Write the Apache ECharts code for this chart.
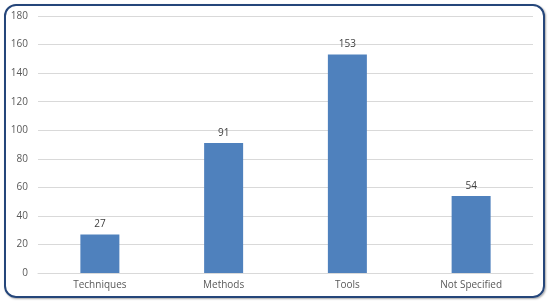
<!DOCTYPE html>
<html><head><meta charset="utf-8">
<script src="https://cdn.jsdelivr.net/npm/echarts@6/dist/echarts.min.js"></script>
<style>
html,body{margin:0;padding:0;background:#fff;}
#wrap{position:relative;width:550px;height:305px;}
#c{position:absolute;left:0;top:0;width:550px;height:305px;}
#b{position:absolute;left:4px;top:4px;width:537px;height:290px;border:2px solid #25467a;border-radius:12px;box-shadow:1px 1px 2px rgba(0,0,0,0.35);pointer-events:none;}
</style></head>
<body><div id="wrap"><div id="c"></div><div id="b"></div></div>
<script>
const categories = ["Techniques", "Methods", "Tools", "Not Specified"];
const values = [27, 91, 153, 54];
const yTicks = {min: 0, max: 180, interval: 20};
const chart = echarts.init(document.getElementById('c'), null, {renderer: 'canvas'});
chart.setOption({
  animation: false,
  backgroundColor: 'transparent',
  grid: {left: 38, right: 17, top: 16, bottom: 32, containLabel: false},
  xAxis: {
    type: 'category', data: categories,
    axisLine: {show: true, lineStyle: {color: '#d9d9d9'}},
    axisTick: {show: false},
    axisLabel: {color: '#595959', fontSize: 10, fontFamily: 'Open Sans', margin: 7}
  },
  yAxis: {
    type: 'value', min: yTicks.min, max: yTicks.max, interval: yTicks.interval,
    axisLine: {show: false}, axisTick: {show: false},
    splitLine: {lineStyle: {color: '#d9d9d9', width: 1}},
    axisLabel: {color: '#595959', fontSize: 10, fontFamily: 'Open Sans', margin: 10}
  },
  series: [{
    type: 'bar', data: values, barWidth: 39,
    itemStyle: {color: '#4f81bd'},
    label: {show: true, position: 'top', color: '#404040', fontSize: 10, fontFamily: 'Open Sans', distance: 5}
  }]
});
</script></body></html>
